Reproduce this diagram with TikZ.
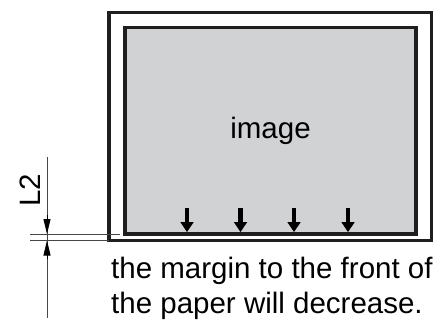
\documentclass[tikz,border=0pt]{standalone}
\usepackage{fontspec}
\setmainfont{Liberation Sans}
\usetikzlibrary{positioning, arrows.meta, calc}

\definecolor{imggray}{RGB}{209,210,212}

\begin{document}
\begin{tikzpicture}[
    x=1pt, y=-1pt,
    every node/.style={inner sep=0pt, font=\fontsize{29.5}{35}\selectfont},
    frame/.style={rectangle, draw=black!88, line width=3.2pt, outer sep=0pt},
    dimline/.style={draw=black!72, line width=0.8pt},
    dimarrow/.style={-{Triangle[length=15pt,width=7pt]}, draw=black, line width=0.8pt},
    shiftarrow/.style={-{Triangle[length=10pt,width=12.5pt]}, draw=black, line width=4.6pt}
]
    \useasboundingbox (0,0) rectangle (438,321);

    % paper and printed image
    \node[frame, anchor=north west, minimum width=322.5pt, minimum height=227.8pt] (paper) at (109,12.7) {};
    \node[frame, fill=imggray, anchor=north west, minimum width=291pt, minimum height=206.3pt] (img) at (125,27.7) {image};

    % image moves towards the front
    \foreach \x in {187, 240.5, 294, 348}
        \draw[shiftarrow] (\x,208) -- (\x,232.2);

    % dimension L2
    \coordinate (dimleft) at (30,0);
    \coordinate (dimtop) at (47,157);
    \coordinate (dimbot) at (47,318);
    \coordinate (imgedge) at ($(img.south west)+(-5,0)$);
    \draw[dimline] (imgedge -| dimleft) -- (imgedge);
    \draw[dimline] (paper.south west -| dimleft) -- (paper.south west);
    \draw[dimline] (dimtop) -- (dimbot);
    \draw[dimarrow] (img.south west -| dimtop) ++(0,-19) -- (img.south west -| dimtop);
    \draw[dimarrow] (paper.south west -| dimtop) ++(0,18.5) -- (paper.south west -| dimtop);
    \node[rotate=90, anchor=base] (ltwo) at (40,190) {L2};

    % note below the paper
    \node[anchor=base west] (note1) at (111,278) {the margin to the front of};
    \node[anchor=base west] (note2) at (111,313) {the paper will decrease.};
\end{tikzpicture}
\end{document}
